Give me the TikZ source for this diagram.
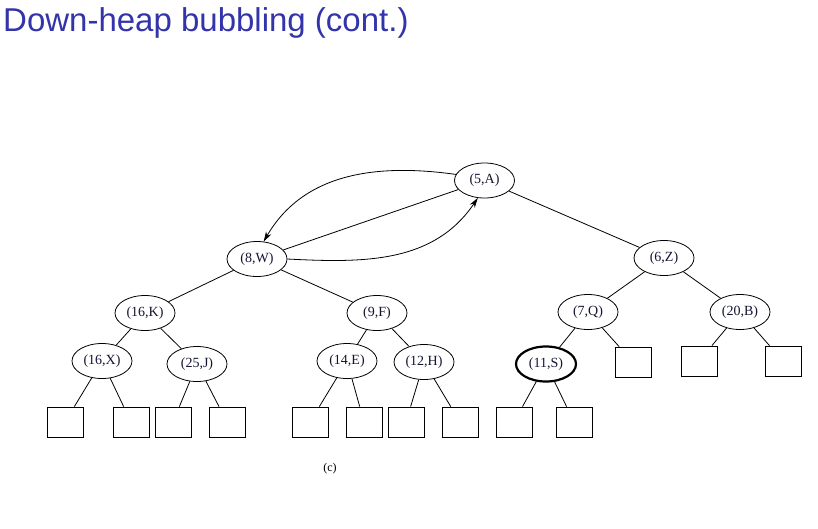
\documentclass[tikz,border=0pt]{standalone}
\usepackage{fontspec}
\setmainfont{Liberation Serif}
\newfontfamily\titlefont{Liberation Sans}
\usetikzlibrary{arrows.meta,shapes.geometric}
\definecolor{titleblue}{RGB}{51,51,170}
\definecolor{labelink}{RGB}{20,20,50}
\tikzset{
  key/.style={draw, ellipse, minimum width=60pt, minimum height=35pt, inner sep=0pt,
    line width=0.8pt, text=labelink, font=\fontsize{14}{16}\selectfont},
  hot/.style={key, line width=2.2pt},
  leaf/.style={draw, rectangle, minimum width=36pt, minimum height=30pt, inner sep=0pt, line width=0.8pt},
  edge/.style={line width=0.8pt},
  swap/.style={line width=0.8pt, -{Stealth[length=10pt,width=6pt]}}
}
\begin{document}
\begin{tikzpicture}[x=1pt,y=-1pt]
\useasboundingbox (0,0) rectangle (818,528);
\node[anchor=base west, text=titleblue, font=\titlefont\fontsize{33}{37}\selectfont, inner sep=0pt] (title) at (3,31) {Down-heap bubbling (cont.)};
% internal nodes
\node[key] (A) at (484.5,180.5) {(5,A)};
\node[key] (W) at (257,259) {(8,W)};
\node[key] (Z) at (664,258) {(6,Z)};
\node[key] (K) at (145,313) {(16,K)};
\node[key] (F) at (377,313) {(9,F)};
\node[key] (Q) at (588,312) {(7,Q)};
\node[key] (B) at (740,312) {(20,B)};
\node[key] (X) at (102,361) {(16,X)};
\node[key] (J) at (197,364) {\raisebox{-3pt}{(25,J)}};
\node[key] (E) at (347,361) {(14,E)};
\node[key] (H) at (424,362) {(12,H)};
\node[hot] (S) at (546,364) {(11,S)};
% leaves
\node[leaf] (l1) at (65,422) {};
\node[leaf] (l2) at (131,422) {};
\node[leaf] (l3) at (173,422) {};
\node[leaf] (l4) at (227,422) {};
\node[leaf] (l5) at (310,422) {};
\node[leaf] (l6) at (364,422) {};
\node[leaf] (l7) at (406,422) {};
\node[leaf] (l8) at (460,422) {};
\node[leaf] (l9) at (514,422) {};
\node[leaf] (l10) at (574,422) {};
\node[leaf] (l11) at (633,362) {};
\node[leaf] (l12) at (699,361) {};
\node[leaf] (l13) at (783,361) {};
% tree edges
\draw[edge] (A) -- (W);
\draw[edge] (A) -- (Z);
\draw[edge] (W) -- (K);
\draw[edge] (W) -- (F);
\draw[edge] (Z) -- (Q);
\draw[edge] (Z) -- (B);
\draw[edge] (K) -- (X);
\draw[edge] (K) -- (J);
\draw[edge] (F) -- (E);
\draw[edge] (F) -- (H);
\draw[edge] (Q) -- (S);
\draw[edge] (Q) -- (l11);
\draw[edge] (B) -- (l12);
\draw[edge] (B) -- (l13);
\draw[edge] (X) -- (l1);
\draw[edge] (X) -- (l2);
\draw[edge] (J) -- (l3);
\draw[edge] (J) -- (l4);
\draw[edge] (E) -- (l5);
\draw[edge] (E) -- (l6);
\draw[edge] (H) -- (l7);
\draw[edge] (H) -- (l8);
\draw[edge] (S) -- (l9);
\draw[edge] (S) -- (l10);
% swap arrows
\draw[swap] (A.168) to[out=172,in=60] (W.69);
\draw[swap] (W.east) to[out=-3,in=236] (A.249);
% caption
\node[font=\fontsize{12}{14}\selectfont] (cap) at (330,469) {(c)};
\end{tikzpicture}
\end{document}
